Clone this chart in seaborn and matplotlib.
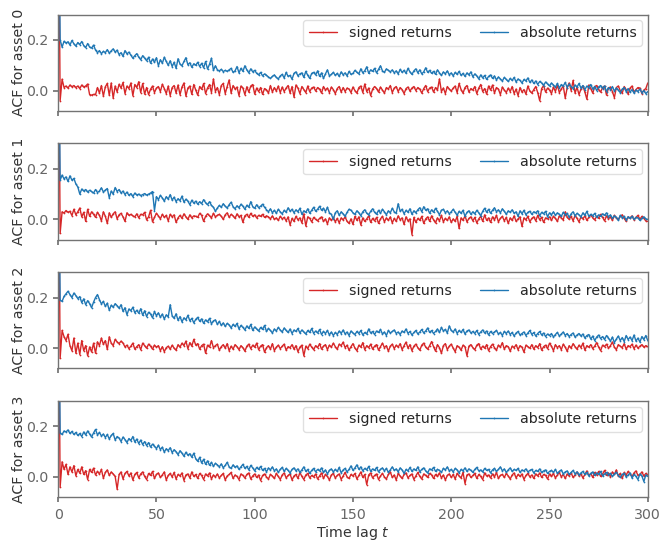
import numpy as np
import pandas as pd
import matplotlib
matplotlib.use("Agg")
import matplotlib.pyplot as plt
import seaborn as sns

# ---- data: ACF values for lags 1..300 (lag 0 is 1.0) ----
abs0 = [0.200, 0.172, 0.195, 0.188, 0.193, 0.180, 0.198, 0.185, 0.176, 0.190,
        0.182, 0.194, 0.178, 0.170, 0.186, 0.172, 0.168, 0.180, 0.160, 0.150,
        0.158, 0.146, 0.155, 0.150, 0.162, 0.148, 0.157, 0.165, 0.152, 0.160,
        0.142, 0.150, 0.135, 0.158, 0.145, 0.152, 0.140, 0.128, 0.138, 0.146,
        0.132, 0.122, 0.138, 0.128, 0.118, 0.132, 0.108, 0.125, 0.112, 0.130,
        0.098, 0.122, 0.108, 0.132, 0.115, 0.100, 0.118, 0.095, 0.112, 0.088,
        0.126, 0.105, 0.098, 0.115, 0.130, 0.102, 0.110, 0.092, 0.106, 0.100,
        0.112, 0.095, 0.108, 0.090, 0.115, 0.085, 0.104, 0.128, 0.080, 0.098,
        0.082, 0.078, 0.084, 0.075, 0.080, 0.076, 0.082, 0.088, 0.072, 0.078,
        0.095, 0.070, 0.088, 0.076, 0.098, 0.082, 0.070, 0.086, 0.074, 0.080,
        0.068, 0.062, 0.072, 0.058, 0.066, 0.060, 0.054, 0.048, 0.056, 0.062,
        0.052, 0.046, 0.058, 0.064, 0.050, 0.072, 0.056, 0.060, 0.045, 0.068,
        0.074, 0.058, 0.066, 0.070, 0.052, 0.076, 0.060, 0.048, 0.068, 0.072,
        0.062, 0.078, 0.056, 0.070, 0.048, 0.066, 0.082, 0.058, 0.064, 0.072,
        0.060, 0.068, 0.056, 0.074, 0.062, 0.070, 0.058, 0.076, 0.064, 0.068,
        0.080, 0.072, 0.066, 0.086, 0.070, 0.078, 0.094, 0.068, 0.082, 0.076,
        0.088, 0.070, 0.084, 0.098, 0.078, 0.072, 0.086, 0.080, 0.074, 0.082,
        0.070, 0.078, 0.066, 0.084, 0.072, 0.080, 0.068, 0.088, 0.074, 0.064,
        0.078, 0.086, 0.070, 0.082, 0.066, 0.074, 0.090, 0.072, 0.080, 0.068,
        0.076, 0.064, 0.082, 0.070, 0.060, 0.074, 0.066, 0.078, 0.062, 0.070,
        0.058, 0.072, 0.064, 0.076, 0.060, 0.068, 0.056, 0.070, 0.062, 0.074,
        0.054, 0.066, 0.058, 0.046, 0.062, 0.050, 0.060, 0.044, 0.056, 0.062,
        0.048, 0.058, 0.042, 0.054, 0.046, 0.038, 0.052, 0.044, 0.036, 0.048,
        0.040, 0.052, 0.034, 0.046, 0.040, 0.030, 0.044, 0.038, 0.050, 0.032,
        0.042, 0.028, 0.038, 0.024, 0.036, 0.030, 0.020, 0.034, 0.026, 0.018,
        0.030, 0.022, 0.014, 0.028, 0.010, 0.024, 0.018, 0.032, 0.012, 0.026,
        0.016, 0.008, 0.022, 0.014, 0.028, 0.010, 0.020, 0.004, 0.018, 0.012,
        0.024, 0.006, 0.016, 0.000, 0.014, 0.020, 0.008, 0.018, -0.004, 0.012,
        0.004, 0.016, -0.002, 0.010, 0.002, -0.008, 0.006, 0.012, -0.004, 0.008,
        -0.006, 0.004, -0.010, 0.002, -0.004, 0.006, -0.008, 0.000, -0.012, -0.004]

sig0 = [-0.040, 0.045, 0.012, 0.018, 0.010, 0.022, 0.015, 0.020, 0.012, 0.018,
        0.008, 0.022, 0.014, 0.018, 0.026, -0.016, -0.018, -0.015, -0.016, 0.012,
        -0.010, 0.020, -0.022, 0.015, 0.028, -0.018, 0.030, -0.030, 0.018, -0.005,
        0.025, 0.010, 0.032, -0.012, 0.018, 0.008, 0.030, -0.020, 0.024, 0.012,
        0.035, -0.008, 0.028, -0.014, 0.012, -0.016, 0.005, 0.018, -0.008, 0.010,
        0.016, -0.004, 0.025, 0.008, -0.012, 0.018, -0.020, 0.012, 0.020, -0.010,
        0.022, -0.016, 0.014, 0.030, -0.022, 0.010, 0.018, -0.015, 0.024, 0.002,
        -0.018, 0.016, 0.005, 0.028, -0.012, 0.010, 0.024, -0.008, 0.046, -0.004,
        0.012, -0.016, 0.020, 0.028, -0.012, 0.016, 0.042, -0.010, 0.020, 0.006,
        0.014, -0.020, 0.018, 0.010, -0.016, 0.015, -0.006, 0.018, 0.024, -0.014,
        0.010, -0.004, 0.012, -0.015, 0.008, 0.003, -0.010, 0.020, -0.006, 0.012,
        -0.002, 0.018, -0.008, 0.014, -0.004, 0.010, 0.020, -0.010, 0.016, -0.026,
        0.022, 0.010, -0.012, 0.016, 0.004, -0.008, 0.018, -0.004, 0.010, 0.014,
        -0.002, 0.012, 0.006, -0.010, 0.016, 0.002, 0.010, -0.008, 0.014, 0.004,
        -0.012, 0.008, 0.016, -0.006, 0.012, -0.004, 0.010, 0.006, -0.008, 0.014,
        0.000, -0.010, 0.012, 0.018, -0.008, 0.026, -0.004, 0.010, -0.020, 0.006,
        0.016, 0.008, -0.006, 0.014, 0.002, -0.010, 0.012, 0.006, 0.020, -0.008,
        0.010, 0.016, -0.004, 0.012, 0.004, -0.012, 0.008, 0.014, -0.002, 0.010,
        0.016, 0.000, 0.012, 0.006, -0.010, 0.008, 0.020, -0.004, 0.010, 0.014,
        -0.006, 0.012, 0.002, 0.046, -0.004, 0.010, -0.012, 0.016, 0.006, -0.002,
        0.010, 0.018, -0.008, 0.028, 0.004, -0.010, 0.012, 0.020, -0.006, 0.008,
        0.002, 0.016, -0.012, 0.010, 0.024, -0.004, 0.008, -0.014, 0.018, 0.002,
        0.022, -0.010, 0.012, 0.006, -0.016, 0.014, 0.002, -0.008, 0.010, -0.004,
        0.016, -0.012, 0.006, -0.020, 0.012, -0.006, 0.004, -0.014, 0.018, -0.002,
        -0.010, 0.004, 0.016, -0.008, -0.040, 0.008, 0.020, -0.006, 0.010, 0.002,
        -0.012, 0.014, -0.004, 0.022, -0.008, 0.006, 0.018, -0.030, 0.012, 0.030,
        0.000, 0.040, -0.010, 0.014, -0.016, 0.006, 0.018, -0.006, -0.034, 0.022,
        0.008, -0.010, 0.016, 0.020, 0.004, -0.006, 0.012, 0.018, -0.018, 0.010,
        0.014, -0.004, -0.028, 0.012, 0.018, 0.000, -0.010, 0.016, 0.004, -0.014,
        0.010, 0.018, -0.006, 0.004, 0.012, 0.010, -0.012, 0.002, 0.008, 0.030]

abs1 = [0.155, 0.175, 0.160, 0.168, 0.150, 0.172, 0.155, 0.162, 0.140, 0.128,
        0.100, 0.120, 0.112, 0.118, 0.108, 0.115, 0.110, 0.104, 0.118, 0.106,
        0.112, 0.125, 0.108, 0.116, 0.122, 0.085, 0.112, 0.100, 0.126, 0.110,
        0.118, 0.104, 0.112, 0.098, 0.108, 0.095, 0.102, 0.090, 0.104, 0.096,
        0.100, 0.094, 0.098, 0.102, 0.096, 0.100, 0.104, 0.110, 0.035, 0.090,
        0.078, 0.095, 0.085, 0.072, 0.090, 0.080, 0.098, 0.076, 0.088, 0.070,
        0.082, 0.074, 0.092, 0.068, 0.080, 0.072, 0.058, 0.076, 0.064, 0.072,
        0.060, 0.070, 0.062, 0.078, 0.066, 0.058, 0.070, 0.055, 0.048, 0.032,
        0.045, 0.055, 0.048, 0.062, 0.052, 0.045, 0.058, 0.068, 0.050, 0.042,
        0.054, 0.046, 0.060, 0.052, 0.040, 0.056, 0.048, 0.070, 0.050, 0.044,
        0.058, 0.046, 0.052, 0.060, 0.048, 0.038, 0.030, 0.042, 0.026, 0.036,
        0.024, 0.040, 0.030, 0.022, 0.036, 0.028, 0.046, 0.032, 0.040, 0.026,
        0.038, 0.030, 0.044, 0.020, 0.034, 0.028, 0.042, 0.024, 0.036, 0.048,
        0.032, 0.040, 0.052, 0.036, 0.044, 0.030, 0.048, 0.026, 0.020, 0.000,
        0.026, 0.034, 0.016, 0.030, 0.022, 0.012, 0.028, 0.040, 0.036, 0.026,
        0.020, 0.034, 0.026, 0.014, 0.030, 0.038, 0.024, 0.018, 0.032, 0.042,
        0.028, 0.020, 0.036, 0.024, 0.040, 0.030, 0.018, 0.034, 0.026, 0.044,
        0.030, 0.024, 0.062, 0.032, 0.040, 0.022, 0.036, 0.028, 0.042, 0.020,
        0.034, 0.026, 0.038, 0.046, 0.030, 0.050, 0.036, 0.042, 0.024, 0.038,
        0.028, 0.044, 0.032, 0.018, 0.036, 0.040, 0.026, 0.034, 0.022, 0.030,
        0.040, 0.028, 0.016, 0.032, 0.024, 0.036, 0.012, 0.028, 0.034, 0.020,
        0.030, 0.022, 0.036, 0.026, 0.014, 0.032, 0.044, 0.028, 0.040, 0.024,
        0.036, 0.046, 0.030, 0.038, 0.026, 0.042, 0.032, 0.020, 0.034, 0.028,
        0.038, 0.024, 0.030, 0.012, 0.034, 0.022, 0.036, 0.018, 0.028, 0.032,
        0.020, 0.030, 0.026, 0.034, 0.014, 0.028, 0.022, 0.032, 0.010, 0.026,
        0.018, 0.030, 0.016, 0.026, 0.020, 0.012, 0.028, 0.018, 0.024, 0.008,
        0.022, 0.030, 0.014, 0.024, 0.018, 0.010, 0.026, 0.016, 0.032, 0.012,
        0.020, 0.014, 0.024, 0.008, 0.018, 0.012, 0.022, 0.016, 0.026, 0.010,
        0.018, 0.004, 0.014, 0.008, -0.004, 0.016, 0.006, 0.012, -0.002, 0.010,
        0.004, 0.012, 0.000, 0.008, 0.006, -0.004, 0.004, 0.010, 0.002, 0.000]

sig1 = [-0.055, 0.030, 0.025, 0.035, 0.028, 0.032, 0.015, 0.040, 0.018, 0.030,
        0.045, 0.010, 0.028, -0.008, 0.040, 0.012, 0.030, 0.020, 0.008, 0.028,
        0.016, -0.006, 0.030, 0.012, -0.016, 0.026, 0.008, 0.022, 0.030, 0.002,
        0.018, 0.024, 0.010, -0.008, 0.026, 0.016, 0.020, 0.014, 0.010, 0.022,
        0.006, 0.020, 0.018, 0.028, -0.002, 0.010, 0.036, -0.010, 0.008, 0.024,
        0.014, 0.002, 0.020, 0.008, 0.016, -0.006, 0.020, 0.010, 0.018, -0.012,
        0.006, 0.016, 0.004, 0.022, 0.010, 0.000, 0.018, 0.006, 0.014, 0.012,
        0.008, 0.024, 0.016, -0.008, 0.012, 0.022, 0.014, 0.006, 0.024, 0.010,
        0.016, 0.020, 0.012, 0.000, 0.018, 0.026, 0.008, 0.020, 0.014, 0.004,
        0.022, 0.010, 0.016, -0.012, 0.014, 0.020, 0.008, 0.024, 0.012, 0.018,
        0.006, 0.016, 0.012, 0.020, 0.008, 0.014, 0.010, 0.002, 0.014, 0.000,
        0.006, -0.004, 0.012, 0.002, 0.008, -0.006, 0.010, -0.022, 0.004, -0.008,
        0.012, -0.002, 0.006, -0.014, 0.022, -0.026, 0.010, 0.004, -0.010, 0.008,
        0.000, -0.006, 0.004, 0.010, -0.008, 0.002, -0.018, 0.006, -0.004, 0.008,
        -0.010, 0.004, -0.014, 0.006, -0.002, 0.010, -0.008, -0.016, 0.002, -0.020,
        0.012, -0.004, 0.010, -0.022, 0.006, -0.008, 0.002, 0.014, -0.012, 0.004,
        -0.006, 0.008, -0.016, 0.002, 0.012, -0.010, 0.006, -0.004, 0.010, -0.014,
        0.004, -0.008, 0.014, -0.002, 0.006, -0.020, 0.010, -0.006, 0.002, -0.060,
        0.008, -0.012, 0.004, -0.004, 0.012, -0.016, 0.002, 0.010, -0.008, 0.014,
        -0.002, -0.014, 0.006, -0.006, 0.016, -0.010, 0.004, -0.004, 0.010, -0.012,
        0.002, -0.008, 0.012, -0.036, 0.006, -0.004, 0.014, -0.010, 0.004, 0.010,
        -0.006, 0.008, -0.014, 0.002, 0.012, -0.008, 0.018, -0.004, 0.006, -0.012,
        0.010, -0.002, 0.016, -0.010, 0.004, 0.012, -0.006, 0.008, -0.016, 0.006,
        -0.004, 0.014, -0.008, 0.002, 0.010, -0.028, 0.006, -0.002, 0.012, -0.010,
        0.004, 0.010, -0.006, 0.016, -0.002, 0.008, -0.012, 0.006, 0.002, 0.010,
        -0.004, 0.012, 0.004, -0.008, 0.014, 0.006, -0.002, 0.030, 0.008, 0.000,
        0.012, -0.006, 0.016, 0.004, -0.010, 0.010, 0.002, 0.014, -0.004, 0.008,
        0.018, 0.006, -0.002, 0.012, 0.004, 0.020, 0.008, -0.006, 0.014, 0.002,
        0.010, -0.004, 0.016, 0.006, 0.000, 0.012, 0.018, 0.004, -0.008, 0.010,
        0.006, 0.014, -0.002, 0.008, 0.016, 0.000, 0.012, 0.004, -0.006, -0.008]

abs2 = [0.190, 0.185, 0.205, 0.215, 0.225, 0.212, 0.200, 0.218, 0.208, 0.196,
        0.204, 0.180, 0.195, 0.172, 0.188, 0.176, 0.160, 0.182, 0.200, 0.212,
        0.192, 0.175, 0.185, 0.165, 0.178, 0.150, 0.170, 0.162, 0.176, 0.168,
        0.158, 0.172, 0.145, 0.160, 0.132, 0.155, 0.148, 0.162, 0.140, 0.150,
        0.138, 0.156, 0.130, 0.148, 0.125, 0.142, 0.135, 0.120, 0.145, 0.128,
        0.140, 0.122, 0.135, 0.115, 0.132, 0.124, 0.172, 0.128, 0.118, 0.136,
        0.110, 0.125, 0.104, 0.120, 0.112, 0.130, 0.108, 0.118, 0.100, 0.114,
        0.122, 0.106, 0.116, 0.098, 0.112, 0.104, 0.118, 0.096, 0.108, 0.112,
        0.094, 0.106, 0.090, 0.100, 0.086, 0.098, 0.092, 0.080, 0.094, 0.086,
        0.098, 0.076, 0.090, 0.082, 0.072, 0.088, 0.078, 0.094, 0.070, 0.084,
        0.076, 0.068, 0.082, 0.074, 0.090, 0.066, 0.078, 0.070, 0.060, 0.076,
        0.068, 0.082, 0.072, 0.064, 0.080, 0.070, 0.062, 0.076, 0.058, 0.072,
        0.066, 0.078, 0.060, 0.072, 0.064, 0.056, 0.070, 0.062, 0.078, 0.058,
        0.068, 0.060, 0.074, 0.054, 0.066, 0.058, 0.070, 0.052, 0.064, 0.050,
        0.062, 0.054, 0.068, 0.058, 0.072, 0.056, 0.064, 0.050, 0.068, 0.060,
        0.054, 0.066, 0.058, 0.070, 0.052, 0.062, 0.056, 0.076, 0.060, 0.066,
        0.054, 0.068, 0.062, 0.074, 0.056, 0.064, 0.050, 0.070, 0.060, 0.066,
        0.072, 0.058, 0.064, 0.054, 0.068, 0.062, 0.076, 0.058, 0.066, 0.052,
        0.062, 0.070, 0.056, 0.064, 0.074, 0.060, 0.068, 0.080, 0.062, 0.070,
        0.058, 0.066, 0.076, 0.062, 0.082, 0.068, 0.074, 0.060, 0.088, 0.070,
        0.064, 0.076, 0.058, 0.070, 0.062, 0.074, 0.056, 0.068, 0.072, 0.060,
        0.066, 0.058, 0.070, 0.054, 0.064, 0.072, 0.060, 0.068, 0.052, 0.066,
        0.058, 0.064, 0.070, 0.056, 0.062, 0.050, 0.066, 0.058, 0.068, 0.054,
        0.062, 0.048, 0.060, 0.066, 0.052, 0.058, 0.064, 0.050, 0.060, 0.070,
        0.054, 0.062, 0.048, 0.058, 0.066, 0.052, 0.060, 0.046, 0.056, 0.050,
        0.058, 0.044, 0.054, 0.062, 0.048, 0.056, 0.064, 0.050, 0.058, 0.046,
        0.054, 0.060, 0.044, 0.052, 0.058, 0.048, 0.056, 0.040, 0.050, 0.054,
        0.036, 0.048, 0.030, 0.044, 0.052, 0.038, 0.046, 0.034, 0.050, 0.040,
        0.028, 0.044, 0.022, 0.036, 0.048, 0.030, 0.042, 0.026, 0.050, 0.034,
        0.044, 0.030, 0.052, 0.028, 0.040, 0.024, 0.046, 0.034, 0.050, 0.030]

sig2 = [-0.040, 0.070, 0.045, 0.030, 0.055, 0.010, -0.010, 0.040, -0.020, 0.020,
        -0.025, 0.030, -0.010, 0.010, -0.030, 0.005, -0.015, 0.020, -0.020, 0.025,
        0.010, 0.040, 0.015, 0.030, -0.005, 0.045, 0.020, 0.010, 0.035, 0.025,
        0.018, 0.028, 0.020, 0.005, 0.012, -0.002, 0.008, 0.020, -0.004, 0.006,
        0.014, -0.006, 0.020, 0.010, 0.000, 0.016, 0.008, -0.004, 0.012, 0.004,
        0.010, -0.010, 0.006, -0.014, 0.002, 0.008, -0.004, 0.012, 0.000, -0.008,
        0.014, 0.004, 0.020, 0.010, 0.028, -0.002, 0.022, 0.008, 0.035, 0.012,
        0.018, -0.004, 0.010, 0.016, -0.020, 0.012, 0.004, 0.030, 0.002, 0.010,
        0.016, -0.008, 0.006, 0.014, 0.000, 0.018, -0.010, 0.008, -0.004, 0.014,
        0.006, -0.006, 0.010, 0.002, -0.012, 0.008, 0.016, -0.002, 0.012, 0.004,
        0.020, -0.006, 0.008, 0.014, -0.016, 0.002, 0.010, -0.004, 0.018, -0.010,
        0.004, 0.012, -0.002, 0.008, 0.016, -0.008, 0.006, 0.002, 0.014, -0.004,
        0.010, -0.014, 0.004, 0.012, -0.030, 0.008, -0.002, 0.016, 0.004, -0.006,
        0.010, 0.002, 0.018, -0.004, 0.008, 0.014, -0.006, 0.012, 0.004, 0.020,
        0.006, -0.004, 0.016, 0.010, 0.024, 0.002, 0.012, -0.008, 0.006, 0.018,
        0.000, -0.010, 0.012, 0.004, 0.022, -0.006, 0.010, 0.002, 0.016, -0.004,
        0.008, 0.014, -0.008, 0.006, 0.020, 0.002, 0.010, -0.012, 0.008, 0.016,
        -0.002, 0.012, 0.004, 0.018, -0.006, 0.010, 0.024, 0.000, 0.014, -0.010,
        0.008, 0.016, 0.002, -0.008, 0.012, 0.020, 0.004, -0.004, 0.010, 0.026,
        0.006, -0.012, 0.014, 0.002, -0.020, 0.010, 0.018, -0.006, 0.008, 0.016,
        0.000, -0.014, 0.010, 0.004, -0.008, 0.012, 0.006, -0.030, 0.008, 0.014,
        0.002, -0.006, 0.012, 0.018, -0.004, 0.008, 0.000, 0.014, -0.010, 0.006,
        0.016, 0.002, -0.008, 0.012, 0.004, 0.022, -0.004, 0.010, 0.006, -0.012,
        0.008, 0.002, 0.014, -0.006, 0.010, 0.004, -0.016, 0.012, 0.006, 0.000,
        0.014, -0.004, 0.010, 0.002, 0.018, -0.008, 0.006, 0.012, -0.002, 0.020,
        0.008, -0.010, 0.014, 0.002, 0.010, -0.006, 0.016, 0.004, -0.012, 0.010,
        0.000, 0.018, 0.006, -0.004, 0.012, 0.002, 0.020, -0.008, 0.010, 0.004,
        0.014, -0.002, 0.008, 0.022, 0.004, -0.010, 0.012, 0.006, 0.016, 0.000,
        0.010, 0.024, 0.004, -0.006, 0.014, 0.008, 0.002, 0.018, -0.004, 0.010,
        0.006, 0.016, -0.002, 0.012, 0.000, 0.008, 0.014, 0.004, 0.010, 0.006]

abs3 = [0.175, 0.168, 0.182, 0.178, 0.186, 0.172, 0.180, 0.168, 0.176, 0.164,
        0.172, 0.160, 0.178, 0.166, 0.182, 0.170, 0.158, 0.174, 0.188, 0.166,
        0.176, 0.162, 0.170, 0.156, 0.168, 0.150, 0.164, 0.172, 0.146, 0.160,
        0.154, 0.140, 0.158, 0.148, 0.136, 0.152, 0.144, 0.160, 0.138, 0.150,
        0.132, 0.146, 0.128, 0.140, 0.124, 0.136, 0.118, 0.130, 0.122, 0.112,
        0.126, 0.108, 0.118, 0.098, 0.112, 0.104, 0.116, 0.096, 0.108, 0.100,
        0.088, 0.104, 0.094, 0.082, 0.098, 0.086, 0.092, 0.078, 0.094, 0.072,
        0.062, 0.078, 0.055, 0.070, 0.050, 0.064, 0.046, 0.058, 0.042, 0.054,
        0.048, 0.040, 0.052, 0.036, 0.046, 0.058, 0.040, 0.034, 0.048, 0.038,
        0.044, 0.030, 0.040, 0.050, 0.034, 0.042, 0.028, 0.046, 0.036, 0.024,
        0.038, 0.030, 0.042, 0.026, 0.034, 0.020, 0.036, 0.028, 0.040, 0.024,
        0.032, 0.018, 0.030, 0.038, 0.022, 0.034, 0.026, 0.016, 0.030, 0.036,
        0.024, 0.032, 0.018, 0.028, 0.040, 0.022, 0.030, 0.014, 0.026, 0.034,
        0.020, 0.030, 0.024, 0.036, 0.018, 0.028, 0.012, 0.026, 0.032, 0.020,
        0.030, 0.022, 0.038, 0.016, 0.028, 0.034, 0.020, 0.030, 0.044, 0.026,
        0.036, 0.048, 0.030, 0.040, 0.024, 0.034, 0.028, 0.042, 0.022, 0.032,
        0.026, 0.038, 0.020, 0.030, 0.036, 0.024, 0.034, 0.018, 0.028, 0.040,
        0.026, 0.032, 0.020, 0.036, 0.028, 0.014, 0.030, 0.024, 0.038, 0.022,
        0.032, 0.026, 0.040, 0.020, 0.030, 0.036, 0.024, 0.016, 0.032, 0.028,
        0.038, 0.022, 0.030, 0.026, 0.018, 0.034, 0.028, 0.040, 0.024, 0.030,
        0.020, 0.034, 0.028, 0.016, 0.030, 0.024, 0.036, 0.022, 0.032, 0.026,
        0.018, 0.030, 0.038, 0.024, 0.028, 0.020, 0.034, 0.026, 0.030, 0.016,
        0.028, 0.034, 0.022, 0.030, 0.040, 0.024, 0.032, 0.018, 0.028, 0.036,
        0.022, 0.030, 0.026, 0.034, 0.018, 0.028, 0.024, 0.032, 0.020, 0.026,
        0.030, 0.016, 0.026, 0.022, 0.032, 0.018, 0.024, 0.028, 0.014, 0.022,
        0.026, 0.018, 0.030, 0.014, 0.022, 0.028, 0.012, 0.020, 0.024, 0.010,
        0.018, 0.026, 0.012, 0.020, 0.008, 0.016, 0.022, 0.010, 0.018, 0.004,
        0.014, 0.020, 0.006, 0.016, 0.010, 0.022, 0.004, 0.012, 0.018, 0.008,
        0.014, 0.002, 0.012, 0.018, 0.006, -0.002, 0.010, 0.014, 0.000, 0.008,
        0.016, -0.004, 0.010, 0.002, -0.010, 0.012, 0.004, -0.018, 0.008, 0.002]

sig3 = [-0.040, 0.060, 0.030, 0.050, 0.010, 0.040, 0.020, 0.045, 0.005, 0.030,
        0.015, 0.040, 0.010, 0.025, -0.010, 0.030, 0.018, 0.035, 0.008, 0.022,
        0.012, 0.030, -0.005, 0.018, 0.028, 0.006, 0.020, 0.012, 0.002, -0.048,
        0.010, 0.020, -0.008, 0.014, 0.022, 0.004, 0.016, -0.012, 0.010, 0.018,
        -0.004, 0.012, 0.020, 0.002, -0.010, 0.014, 0.006, 0.022, -0.006, 0.010,
        0.016, -0.002, 0.008, 0.020, -0.012, 0.006, 0.014, 0.000, 0.018, -0.008,
        0.010, 0.004, 0.016, -0.014, 0.008, 0.012, -0.004, 0.020, 0.002, 0.010,
        -0.006, 0.014, 0.006, -0.010, 0.012, 0.004, 0.016, -0.008, 0.008, 0.000,
        0.012, -0.004, 0.006, 0.014, -0.012, 0.004, 0.010, 0.018, -0.006, 0.008,
        0.002, -0.010, 0.012, 0.006, -0.004, 0.010, 0.016, -0.008, 0.004, 0.012,
        -0.002, 0.008, -0.014, 0.006, 0.012, 0.000, -0.008, 0.010, 0.004, -0.006,
        0.014, 0.002, -0.010, 0.008, 0.016, -0.004, 0.006, 0.012, -0.012, 0.004,
        0.010, -0.006, 0.018, 0.002, -0.010, 0.008, 0.014, -0.004, 0.006, 0.000,
        0.012, -0.008, 0.004, 0.016, -0.006, 0.010, 0.002, -0.012, 0.008, 0.014,
        -0.004, 0.006, 0.012, -0.010, 0.004, 0.018, 0.000, -0.006, 0.010, 0.004,
        0.014, -0.008, 0.006, 0.020, -0.002, 0.010, -0.030, 0.008, 0.016, -0.004,
        0.006, 0.012, -0.010, 0.004, 0.014, 0.000, -0.008, 0.010, 0.020, -0.002,
        0.008, -0.012, 0.014, 0.004, -0.006, 0.010, 0.016, -0.004, 0.006, 0.012,
        -0.010, 0.004, 0.018, 0.002, -0.008, 0.012, 0.006, -0.002, 0.014, 0.008,
        -0.006, 0.010, 0.002, 0.016, -0.004, 0.008, -0.012, 0.006, 0.012, -0.002,
        0.010, -0.008, 0.014, 0.004, -0.004, 0.018, -0.026, 0.008, 0.012, -0.002,
        0.006, 0.014, -0.006, 0.010, 0.002, -0.010, 0.016, 0.004, 0.008, -0.004,
        0.012, 0.000, 0.018, -0.006, 0.006, 0.010, -0.002, 0.014, 0.004, -0.008,
        0.008, 0.016, -0.004, 0.010, 0.002, 0.012, -0.010, 0.006, 0.014, 0.000,
        0.008, -0.006, 0.012, 0.004, 0.016, -0.002, 0.010, 0.006, -0.008, 0.012,
        0.002, 0.014, -0.004, 0.008, 0.018, 0.000, 0.010, -0.006, 0.012, 0.004,
        0.016, -0.002, 0.008, 0.020, 0.004, 0.012, -0.004, 0.010, 0.024, 0.006,
        0.014, -0.002, 0.018, 0.008, 0.022, 0.002, 0.012, 0.026, 0.006, 0.016,
        0.000, 0.020, 0.010, 0.028, 0.004, 0.014, -0.006, 0.018, 0.008, 0.022,
        0.012, 0.002, 0.016, 0.024, 0.006, 0.010, 0.020, 0.004, 0.014, 0.008]

signed_series = [sig0, sig1, sig2, sig3]
absolute_series = [abs0, abs1, abs2, abs3]
lag0_value = 1.0
asset_labels = ["ACF for asset 0", "ACF for asset 1", "ACF for asset 2", "ACF for asset 3"]
legend_labels = ["signed returns", "absolute returns"]
x_ticks = [0, 50, 100, 150, 200, 250, 300]
y_ticks = [0.0, 0.2]

# ---- style ----
sns.set_theme(style="ticks")
FS = 10.2
plt.rcParams.update({
    "font.family": ["DejaVu Sans"],
    "axes.edgecolor": "0.45",
    "axes.linewidth": 1.0,
    "xtick.color": "0.45",
    "ytick.color": "0.45",
    "xtick.labelcolor": "0.4",
    "ytick.labelcolor": "0.4",
    "xtick.major.size": 3.5,
    "ytick.major.size": 3.5,
    "xtick.major.pad": 4.5,
    "ytick.major.pad": 3.5,
    "axes.labelcolor": "0.2",
    "xtick.labelsize": FS,
    "ytick.labelsize": FS,
    "axes.labelsize": FS,
    "legend.fontsize": FS,
    "mathtext.fontset": "dejavusans",
})

RED = "#d62728"
BLUE = "#1f77b4"

fig, axes = plt.subplots(4, 1, figsize=(6.61, 5.44), dpi=100, sharex=True)
fig.subplots_adjust(left=0.088, right=0.980, top=0.973, bottom=0.086, hspace=0.34)

for i, ax in enumerate(axes):
    s = [lag0_value] + signed_series[i]
    a = [lag0_value] + absolute_series[i]
    df = pd.DataFrame({
        "lag": np.concatenate([np.arange(len(s)), np.arange(len(a))]),
        "acf": s + a,
        "kind": [legend_labels[0]] * len(s) + [legend_labels[1]] * len(a),
    })
    sns.lineplot(data=df, x="lag", y="acf", hue="kind",
                 palette={legend_labels[0]: RED, legend_labels[1]: BLUE},
                 hue_order=legend_labels, ax=ax, lw=1.0, marker=".",
                 markersize=2.5, markeredgewidth=0)
    ax.set_xlim(0, 300)
    ax.set_ylim(-0.08, 0.3)
    ax.set_yticks(y_ticks)
    ax.set_xticks(x_ticks)
    ax.set_ylabel(asset_labels[i])
    ax.yaxis.set_label_coords(-0.055, 0.5)
    ax.set_xlabel("")
    for sp in ax.spines.values():
        sp.set_visible(True)
    leg = ax.legend(loc="upper right", ncol=2, frameon=True, framealpha=0.8,
                    edgecolor="0.85", numpoints=1, borderaxespad=0.4)
    for ln in leg.get_lines():
        ln.set_linewidth(1.0)
        ln.set_markersize(2.5)

axes[-1].set_xlabel("Time lag $t$", labelpad=1)

fig.savefig("out.png", dpi=100)
